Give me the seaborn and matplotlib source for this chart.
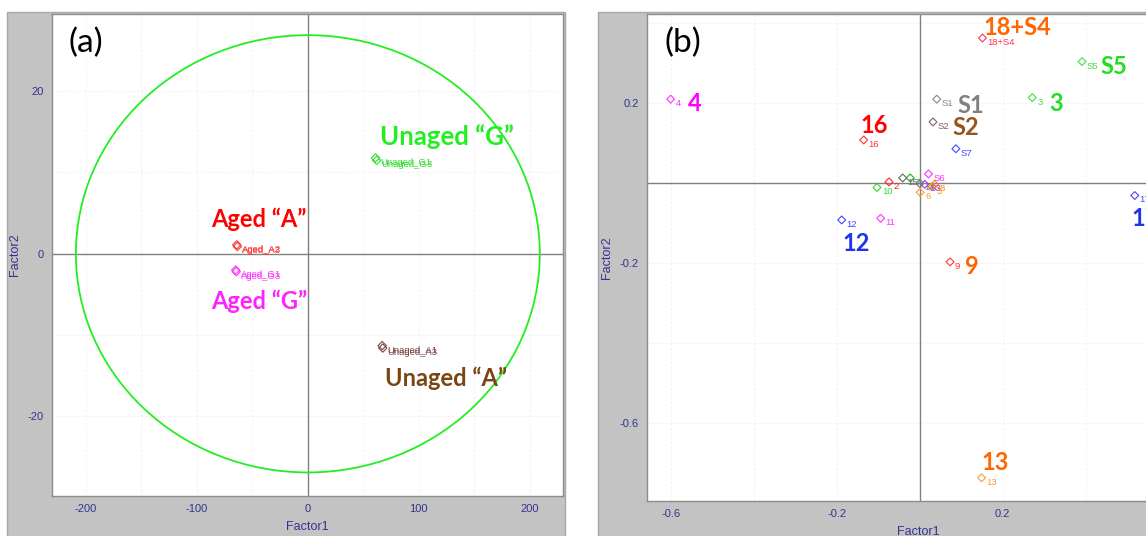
import numpy as np
import pandas as pd
import matplotlib
matplotlib.use("Agg")
import matplotlib.pyplot as plt
from matplotlib.patches import Rectangle, Ellipse
from matplotlib.ticker import MultipleLocator, FixedLocator, NullFormatter
import seaborn as sns

# ---------------- data: panel (a) sample scores ----------------
a_names = ["Unaged_G1", "Unaged_G3", "Aged_A2", "Aged_A3",
           "Aged_G1", "Aged_G3", "Unaged_A1", "Unaged_A3"]
a_factor1 = [61.0, 62.0, -64.0, -63.5, -65.0, -64.5, 67.0, 67.5]
a_factor2 = [11.8, 11.5, 1.1, 0.9, -2.0, -2.2, -11.3, -11.6]
a_colors = ["#33dd33", "#33dd33", "#ff3333", "#ff3333",
            "#ff33ff", "#ff33ff", "#804848", "#804848"]

a_groups = ["Unaged \u201cG\u201d", "Aged \u201cA\u201d", "Aged \u201cG\u201d", "Unaged \u201cA\u201d"]
a_group_x = [125.5, -44.0, -44.0, 124.5]
a_group_y = [14.4, 4.2, -5.9, -15.3]
a_group_colors = ["#22ee22", "#ff0000", "#ff22ff", "#7a4512"]

# confidence ellipse radii (Factor1, Factor2)
ellipse_r1 = 209.0
ellipse_r2 = 26.9

# ---------------- data: panel (b) variable loadings ----------------
b_names = ["4", "18+S4", "S5", "S1", "3", "S2", "16", "S7",
           "2", "10", "15", "7", "S6", "S3", "14", "8", "5", "6",
           "12", "11", "17", "9", "13"]
b_factor1 = [-0.600, 0.151, 0.391, 0.041, 0.271, 0.032, -0.135, 0.087,
             -0.074, -0.103, -0.041, -0.023, 0.021, 0.012, 0.000, 0.036, 0.030, 0.001,
             -0.188, -0.094, 0.518, 0.073, 0.149]
b_factor2 = [0.209, 0.362, 0.303, 0.209, 0.213, 0.152, 0.107, 0.085,
             0.002, -0.012, 0.012, 0.012, 0.022, -0.004, -0.002, -0.004, -0.010, -0.024,
             -0.093, -0.089, -0.032, -0.198, -0.738]
b_colors = ["#ff33ff", "#ff3355", "#44dd44", "#888888", "#44dd44", "#806060", "#ff3333", "#4444ff",
            "#ff2222", "#33dd33", "#666666", "#22aa22", "#ff33ff", "#9933ff", "#777777", "#ff8800", "#ff8800", "#ff9933",
            "#4444ff", "#ff33ff", "#4444ff", "#ff3333", "#ff9933"]

b_groups = ["4", "18+S4", "S5", "S1", "3", "S2", "16", "12", "17", "9", "13"]
b_group_x = [-0.542, 0.234, 0.468, 0.124, 0.329, 0.111, -0.110, -0.153, 0.510, 0.126, 0.182]
b_group_y = [0.199, 0.389, 0.290, 0.193, 0.198, 0.138, 0.144, -0.152, -0.090, -0.210, -0.699]
b_group_colors = ["#ff00ff", "#ff6600", "#22dd22", "#808080", "#22dd22", "#99531c",
                  "#ff0000", "#2233ee", "#2233ee", "#ff6600", "#ff6600"]
b_group_ha = ["center"] * 8 + ["left"] + ["center"] * 2

# ---------------- styling ----------------
sns.set_style("white")
plt.rcParams["font.family"] = ["Liberation Sans", "DejaVu Sans"]
plt.rcParams["axes.unicode_minus"] = False

W, H = 1146, 536
fig = plt.figure(figsize=(W / 100, H / 100), dpi=100)
fig.patch.set_facecolor("white")

PANEL_GRAY = "#c3c3c3"
TICK_BLUE = "#33338f"
BIG_FONT = ["Lato", "DejaVu Sans"]


def px_box(x0, y0, x1, y1):
    return [x0 / W, 1 - y1 / H, (x1 - x0) / W, (y1 - y0) / H]


# gray panel frames
for (x0, y0, x1, y1) in [(7, 12, 565, 540), (598, 12, 1150, 540)]:
    l, b, w, h = px_box(x0, y0, x1, y1)
    fig.add_artist(Rectangle((l, b), w, h, transform=fig.transFigure,
                             facecolor=PANEL_GRAY, edgecolor="#a8a8a8",
                             linewidth=1.0, zorder=-5))

ax_a = fig.add_axes(px_box(52, 14, 563, 496))
ax_b = fig.add_axes(px_box(647, 14, 1190, 501))


def style_axes(ax):
    ax.set_facecolor("white")
    for sp in ax.spines.values():
        sp.set_color("#8c8c8c")
        sp.set_linewidth(1.0)
        sp.set_visible(True)
    ax.tick_params(which="both", direction="out", color="#8c8c8c",
                   labelcolor=TICK_BLUE, labelsize=8, pad=2)
    ax.tick_params(which="major", length=4)
    ax.tick_params(which="minor", length=4)
    ax.grid(True, which="both", color="#f1f1f1", linewidth=0.8, linestyle=(0, (2, 2)))
    ax.set_axisbelow(True)
    ax.axhline(0, color="#808080", linewidth=1.0, zorder=1)
    ax.axvline(0, color="#808080", linewidth=1.0, zorder=1)
    ax.set_xlabel("Factor1", color=TICK_BLUE, fontsize=9, labelpad=5)
    ax.set_ylabel("Factor2", color=TICK_BLUE, fontsize=9, labelpad=5)


def draw_points(ax, df, size):
    sns.scatterplot(data=df, x="Factor1", y="Factor2", hue="name",
                    palette=dict(zip(df["name"], df["color"])),
                    marker="D", s=size, legend=False, ax=ax, zorder=3)
    coll = ax.collections[-1]
    fc = coll.get_facecolors()
    coll.set_edgecolors(fc)
    coll.set_facecolors("none")
    coll.set_linewidth(0.8)
    for _, r in df.iterrows():
        ax.annotate(r["name"], (r["Factor1"], r["Factor2"]),
                    xytext=(3.5, -3.2), textcoords="offset points",
                    ha="left", va="center", fontsize=6.8, color=r["color"], zorder=4)


# ---------------- panel (a) ----------------
style_axes(ax_a)
df_a = pd.DataFrame({"name": a_names, "Factor1": a_factor1,
                     "Factor2": a_factor2, "color": a_colors})
ax_a.add_patch(Ellipse((0, 0), 2 * ellipse_r1, 2 * ellipse_r2, fill=False,
                       edgecolor="#22ee22", linewidth=1.3, zorder=2))
draw_points(ax_a, df_a, 18)
for t, x, y, c in zip(a_groups, a_group_x, a_group_y, a_group_colors):
    fs = 18.5 if t.startswith("Unaged \u201cG") else 17
    ax_a.text(x, y, t, ha="center", va="center", fontsize=fs, fontweight="bold",
              color=c, family=BIG_FONT, zorder=5)
ax_a.set_xlim(-230.5, 229.9)
ax_a.set_ylim(-29.8, 29.5)
ax_a.xaxis.set_major_locator(MultipleLocator(100))
ax_a.xaxis.set_minor_locator(MultipleLocator(50))
ax_a.yaxis.set_major_locator(MultipleLocator(20))
ax_a.yaxis.set_minor_locator(MultipleLocator(10))
ax_a.text(0.033, 0.94, "(a)", transform=ax_a.transAxes, fontsize=24,
          family=BIG_FONT, color="black", ha="left", va="center")

# ---------------- panel (b) ----------------
style_axes(ax_b)
df_b = pd.DataFrame({"name": b_names, "Factor1": b_factor1,
                     "Factor2": b_factor2, "color": b_colors})
draw_points(ax_b, df_b, 16)
for t, x, y, c, ha in zip(b_groups, b_group_x, b_group_y, b_group_colors, b_group_ha):
    ax_b.text(x, y, t, ha=ha, va="center", fontsize=17, fontweight="bold",
              color=c, family=BIG_FONT, zorder=5)
ax_b.set_xlim(-0.657, 0.651)
ax_b.set_ylim(-0.796, 0.422)
ax_b.xaxis.set_major_locator(FixedLocator([-0.6, -0.2, 0.2, 0.6]))
ax_b.xaxis.set_minor_locator(FixedLocator([-0.4, 0.0, 0.4]))
ax_b.yaxis.set_major_locator(FixedLocator([-0.6, -0.2, 0.2]))
ax_b.yaxis.set_minor_locator(FixedLocator([-0.4, 0.0, 0.4]))
ax_b.xaxis.set_minor_formatter(NullFormatter())
ax_b.yaxis.set_minor_formatter(NullFormatter())
ax_b.text(0.032, 0.94, "(b)", transform=ax_b.transAxes, fontsize=24,
          family=BIG_FONT, color="black", ha="left", va="center")

fig.savefig("out.png", dpi=100)
